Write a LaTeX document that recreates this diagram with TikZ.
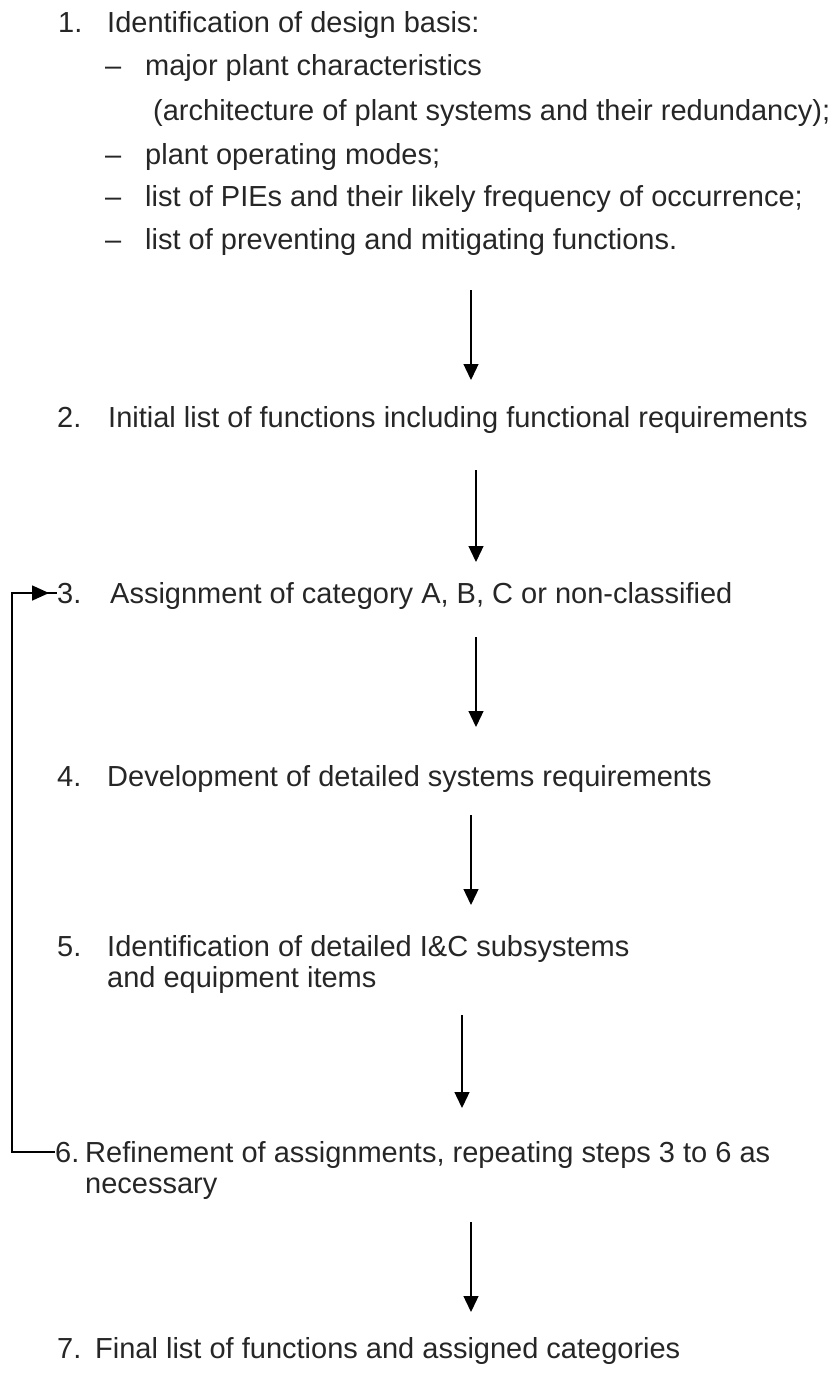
\documentclass[tikz,border=0pt]{standalone}
\usepackage{fontspec}
\setmainfont{Liberation Sans}
\usetikzlibrary{arrows.meta}
\definecolor{txt}{HTML}{262626}
\begin{document}
\begin{tikzpicture}[x=1pt,y=-1pt,
  lbl/.style={anchor=base west,inner sep=0pt,text=txt,font=\fontsize{29}{29}\selectfont},
  flow/.style={line width=1.3pt,-{Triangle[length=16pt,width=15pt]}},
  fb/.style={line width=2pt}]
\useasboundingbox (0,0) rectangle (833,1376);
% step 1
\node[lbl] (n1) at (58,32) {1.};
\node[lbl] (t1) at (107,32) {Identification of design basis:};
\node[lbl] (d1) at (105,75) {–};
\node[lbl] (t1a) at (145,75) {major plant characteristics};
\node[lbl] (t1b) at (153,120) {(architecture of plant systems and their redundancy);};
\node[lbl] (d2) at (105,164) {–};
\node[lbl] (t1c) at (145,164) {plant operating modes;};
\node[lbl] (d3) at (105,206) {–};
\node[lbl] (t1d) at (145,206) {list of PIEs and their likely frequency of occurrence;};
\node[lbl] (d4) at (105,249) {–};
\node[lbl] (t1e) at (145,249) {list of preventing and mitigating functions.};
% step 2
\node[lbl] (n2) at (57,427) {2.};
\node[lbl] (t2) at (108,427) {Initial list of functions including functional requirements};
% step 3
\node[lbl] (n3) at (57,603) {3.};
\node[lbl] (t3) at (110,603) {Assignment of category A, B, C or non-classified};
% step 4
\node[lbl] (n4) at (57,786) {4.};
\node[lbl] (t4) at (107,786) {Development of detailed systems requirements};
% step 5
\node[lbl] (n5) at (57,956) {5.};
\node[lbl] (t5a) at (107,956) {Identification of detailed I\&C subsystems};
\node[lbl] (t5b) at (107,987) {and equipment items};
% step 6
\node[lbl] (n6) at (55,1162) {6.};
\node[lbl] (t6a) at (85,1162) {Refinement of assignments, repeating steps 3 to 6 as};
\node[lbl] (t6b) at (85,1193) {necessary};
% step 7
\node[lbl] (n7) at (57,1358) {7.};
\node[lbl] (t7) at (95,1358) {Final list of functions and assigned categories};
% arrow coordinates
\coordinate (a1s) at (471,290); \coordinate (a1e) at (471,380);
\coordinate (a2s) at (476,470); \coordinate (a2e) at (476,562);
\coordinate (a3s) at (476,637); \coordinate (a3e) at (476,727);
\coordinate (a4s) at (471,815); \coordinate (a4e) at (471,905);
\coordinate (a5s) at (462,1015); \coordinate (a5e) at (462,1108);
\coordinate (a6s) at (471,1222); \coordinate (a6e) at (471,1312);
\draw[flow] (a1s) -- (a1e);
\draw[flow] (a2s) -- (a2e);
\draw[flow] (a3s) -- (a3e);
\draw[flow] (a4s) -- (a4e);
\draw[flow] (a5s) -- (a5e);
\draw[flow] (a6s) -- (a6e);
% feedback loop
\coordinate (fbx) at (12,0);
\draw[fb] (n6.west) -- (n6.west -| fbx) |- (n3.west);
\draw[line width=1.6pt,-{Triangle[length=17pt,width=15pt]},shorten >=8pt] (fbx |- n3.west) -- (n3.west);
\end{tikzpicture}
\end{document}
